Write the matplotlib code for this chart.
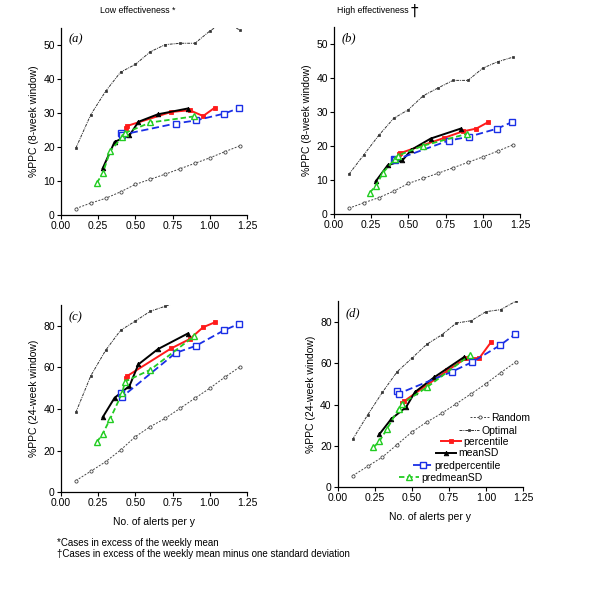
import matplotlib
matplotlib.use('Agg')
import matplotlib.pyplot as plt
from matplotlib.legend import Legend

plt.rcParams['font.family'] = ['Liberation Sans', 'DejaVu Sans']
plt.rcParams['font.size'] = 7.5

# x positions (alerts per y)
xBase = [0.1, 0.2, 0.3, 0.4, 0.5, 0.6, 0.7, 0.8, 0.9, 1.0, 1.1, 1.2]
xPerc = [0.435, 0.445, 0.74, 0.865, 0.955, 1.035]
xMean = [0.28, 0.36, 0.46, 0.52, 0.65, 0.85]
xPredPerc = [0.40, 0.41, 0.77, 0.905, 1.095, 1.195]
xPredMean = [0.24, 0.28, 0.33, 0.41, 0.43, 0.60, 0.895]

# panel a: low effectiveness, 8-week window
randA = [1.9, 3.5, 4.9, 6.8, 9.0, 10.5, 12.0, 13.6, 15.2, 16.8, 18.6, 20.3]
optA = [19.7, 29.5, 36.4, 42.0, 44.3, 48.0, 50.1, 50.5, 50.5, 54.1, 57.0, 54.4]
percA = [25.7, 26.2, 30.3, 30.8, 29.1, 31.6]
meanA = [13.7, 21.5, 23.4, 27.4, 29.6, 31.3]
predPercA = [24.0, 23.6, 26.9, 27.8, 29.8, 31.4]
predMeanA = [9.4, 12.2, 18.8, 22.8, 24.1, 27.2, 29.0]

# panel b: high effectiveness, 8-week window
randB = [1.7, 3.3, 4.8, 6.7, 9.0, 10.5, 12.0, 13.6, 15.2, 16.8, 18.5, 20.3]
optB = [11.7, 17.4, 23.1, 28.1, 30.7, 34.8, 37.1, 39.3, 39.3, 42.9, 44.8, 46.1]
percB = [17.6, 17.9, 22.4, 24.3, 25.1, 27.0]
meanB = [9.6, 14.3, 15.8, 18.9, 22.2, 25.1]
predPercB = [16.1, 15.9, 21.6, 22.7, 25.1, 27.0]
predMeanB = [6.3, 8.2, 12.2, 16.2, 17.2, 20.1, 23.6]

# panel c: low effectiveness, 24-week window
randC = [5.5, 10.0, 14.6, 20.2, 26.7, 31.5, 35.5, 40.3, 45.2, 50.0, 55.3, 60.2]
optC = [38.4, 56.0, 68.3, 77.9, 82.4, 87.1, 89.5, 92.0]
percC = [55.1, 55.9, 69.2, 73.7, 79.4, 81.8]
meanC = [36.0, 45.4, 51.1, 61.5, 68.8, 76.3]
predPercC = [47.5, 45.8, 67.0, 70.4, 77.9, 81.0]
predMeanC = [24.0, 28.0, 35.2, 47.5, 53.2, 58.9, 75.1]

# panel d: high effectiveness, 24-week window
randD = [5.5, 10.0, 14.5, 20.6, 26.7, 31.5, 35.7, 40.4, 45.2, 50.1, 55.5, 60.5]
optD = [23.2, 34.9, 45.9, 55.9, 62.5, 69.2, 73.7, 79.5, 80.6, 85.0, 86.0, 90.0]
percD = [40.8, 41.5, 56.5, 62.5, 62.5, 70.3]
meanD = [25.6, 33.0, 38.7, 46.0, 53.2, 62.9]
predPercD = [46.7, 45.3, 55.9, 60.5, 68.7, 74.0]
predMeanD = [19.2, 22.2, 28.0, 38.0, 40.2, 48.3, 64.1]

labels = ['Random', 'Optimal', 'percentile', 'meanSD', 'predpercentile', 'predmeanSD']

styles = [
    dict(color='#444444', ls=(0, (2, 1.5)), lw=0.7, marker='o', ms=2.3, mfc='white', mew=0.6),
    dict(color='#333333', ls=(0, (3, 1, 1, 1)), lw=0.7, marker='s', ms=1.8, mew=0.5),
    dict(color='#ff1a1a', ls='-', lw=1.4, marker='s', ms=3.3, mew=0.6),
    dict(color='black', ls='-', lw=1.4, marker='^', ms=3.3, mew=0.6),
    dict(color='#1a2fe6', ls=(0, (4, 2)), lw=1.3, marker='s', ms=4.2, mfc='white', mew=1.0),
    dict(color='#22cc22', ls=(0, (3, 1.6)), lw=1.3, marker='^', ms=4.2, mfc='white', mew=1.0),
]

panels = [
    ('(a)', [0.1017, 0.6387, 0.31, 0.3143], 55, [0, 10, 20, 30, 40, 50], '%PPC (8-week window)',
     [randA, optA, percA, meanA, predPercA, predMeanA]),
    ('(b)', [0.5567, 0.6403, 0.31, 0.3143], 55, [0, 10, 20, 30, 40, 50], '%PPC (8-week window)',
     [randB, optB, percB, meanB, predPercB, predMeanB]),
    ('(c)', [0.1017, 0.1731, 0.31, 0.3139], 90, [0, 20, 40, 60, 80], '%PPC (24-week window)',
     [randC, optC, percC, meanC, predPercC, predMeanC]),
    ('(d)', [0.5633, 0.1815, 0.3083, 0.312], 90, [0, 20, 40, 60, 80], '%PPC (24-week window)',
     [randD, optD, percD, meanD, predPercD, predMeanD]),
]
xSets = [xBase, xBase, xPerc, xMean, xPredPerc, xPredMean]

fig = plt.figure(figsize=(6, 5.95), dpi=100)
axes = []
for tag, rect, ytop, yt, ylab, ys in panels:
    ax = fig.add_axes(rect)
    handles = []
    for xs, yv, st in zip(xSets, ys, styles):
        h, = ax.plot(xs[:len(yv)], yv, **st)
        handles.append(h)
    ax.set_xlim(0, 1.25)
    ax.set_ylim(0, ytop)
    ax.set_xticks([0, 0.25, 0.5, 0.75, 1.0, 1.25])
    ax.set_xticklabels(['0.00', '0.25', '0.50', '0.75', '1.00', '1.25'])
    ax.set_yticks(yt)
    ax.spines['top'].set_visible(False)
    ax.spines['right'].set_visible(False)
    ax.spines['left'].set_linewidth(0.9)
    ax.spines['bottom'].set_linewidth(0.9)
    ax.tick_params(direction='out', length=3, width=0.8, pad=1.5, labelsize=7.5)
    ax.set_ylabel(ylab, fontsize=7.5, labelpad=3)
    ax.text(0.04, 0.97, tag, transform=ax.transAxes, ha='left', va='top',
            family='Liberation Serif', style='italic', fontsize=9)
    axes.append((ax, handles))

axes[2][0].set_xlabel('No. of alerts per y', fontsize=7.5, labelpad=6)
axes[3][0].set_xlabel('No. of alerts per y', fontsize=7.5, labelpad=6)

# staggered legend in panel d
axD, hD = axes[3]
legX = [0.712, 0.656, 0.559, 0.530, 0.405, 0.332]
legY = [0.371, 0.303, 0.245, 0.182, 0.115, 0.050]
for h, lab, lx, ly in zip(hD, labels, legX, legY):
    leg = Legend(axD, [h], [lab], loc='center left', bbox_to_anchor=(lx, ly),
                 bbox_transform=axD.transAxes, frameon=False, handlelength=1.9,
                 handletextpad=0.2, borderpad=0, borderaxespad=0, fontsize=7.5)
    axD.add_artist(leg)

fig.text(0.167, 0.983, 'Low effectiveness *', ha='left', va='center', fontsize=6.3)
fig.text(0.562, 0.983, 'High effectiveness', ha='left', va='center', fontsize=6.3)
fig.text(0.684, 0.981, '\u2020', ha='left', va='center', fontsize=11, family='DejaVu Sans')
fig.text(0.095, 1 - 543 / 595, '*Cases in excess of the weekly mean', ha='left', va='center', fontsize=7)
fig.text(0.095, 1 - 554 / 595, '\u2020Cases in excess of the weekly mean minus one standard deviation',
         ha='left', va='center', fontsize=7)

fig.savefig('out.png', dpi=100)
